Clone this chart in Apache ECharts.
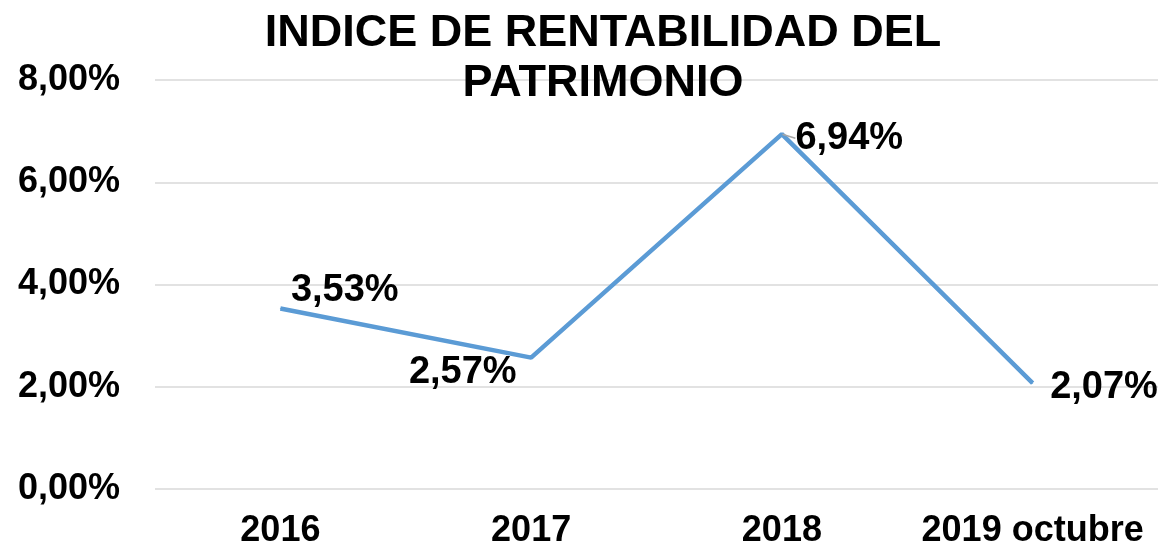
<!DOCTYPE html>
<html>
<head>
<meta charset="utf-8">
<script src="https://cdn.jsdelivr.net/npm/echarts@6/dist/echarts.min.js"></script>
<style>
  html, body { margin: 0; padding: 0; background: #fff; }
  #chart { width: 1160px; height: 551px; }
</style>
</head>
<body>
<div id="chart"></div>
<script>
// data (percent)
var years = ['2016', '2017', '2018', '2019 octubre']
var rentabilidad = [3.53, 2.57, 6.94, 2.07]
var titleText = 'INDICE DE RENTABILIDAD DEL\nPATRIMONIO'

// label nudges per point, [position, dx, dy]
var labelPos = [['right', 5, -18], ['left', -9, 15], ['right', 8, 4], ['right', 12, 4]]

function pct(v) {
  return v.toFixed(2).replace('.', ',') + '%'
}

var chart = echarts.init(document.getElementById('chart'))
var font = '"Liberation Sans", Arial, sans-serif'

chart.setOption({
  animation: false,
  title: {
    text: titleText,
    left: 598,
    textAlign: 'center',
    top: 4,
    textStyle: {
      fontFamily: font,
      fontSize: 45,
      fontWeight: 'bold',
      color: '#000',
      lineHeight: 50
    }
  },
  grid: {
    left: 155,
    right: 2,
    top: 80,
    bottom: 62
  },
  xAxis: {
    type: 'category',
    data: years,
    axisLine: { show: false },
    axisTick: { show: false },
    axisLabel: {
      interval: 0,
      margin: 24,
      fontFamily: font,
      fontSize: 36,
      fontWeight: 'bold',
      color: '#000'
    }
  },
  yAxis: {
    type: 'value',
    min: 0,
    max: 8,
    interval: 2,
    axisLine: { show: false },
    axisTick: { show: false },
    splitLine: { lineStyle: { color: '#d9d9d9', width: 1.5 } },
    axisLabel: {
      margin: 35,
      fontFamily: font,
      fontSize: 36,
      fontWeight: 'bold',
      color: '#000',
      formatter: pct
    }
  },
  series: [{
    type: 'line',
    data: rentabilidad.map(function (v, i) {
      var item = {
        value: v,
        label: { position: labelPos[i][0] }
      }
      if (i === 2) {
        item.labelLine = { show: true, lineStyle: { color: '#a6a6a6', width: 1.5 } }
      }
      return item
    }),
    symbol: 'circle',
    symbolSize: 1,
    lineStyle: { color: '#5b9bd5', width: 4.5 },
    itemStyle: { color: '#5b9bd5' },
    label: {
      show: true,
      distance: 5,
      fontFamily: font,
      fontSize: 38,
      fontWeight: 'bold',
      color: '#000',
      formatter: function (p) { return pct(p.value) }
    },
    labelLayout: function (p) {
      return { dx: labelPos[p.dataIndex][1], dy: labelPos[p.dataIndex][2] }
    }
  }]
})
</script>
</body>
</html>
